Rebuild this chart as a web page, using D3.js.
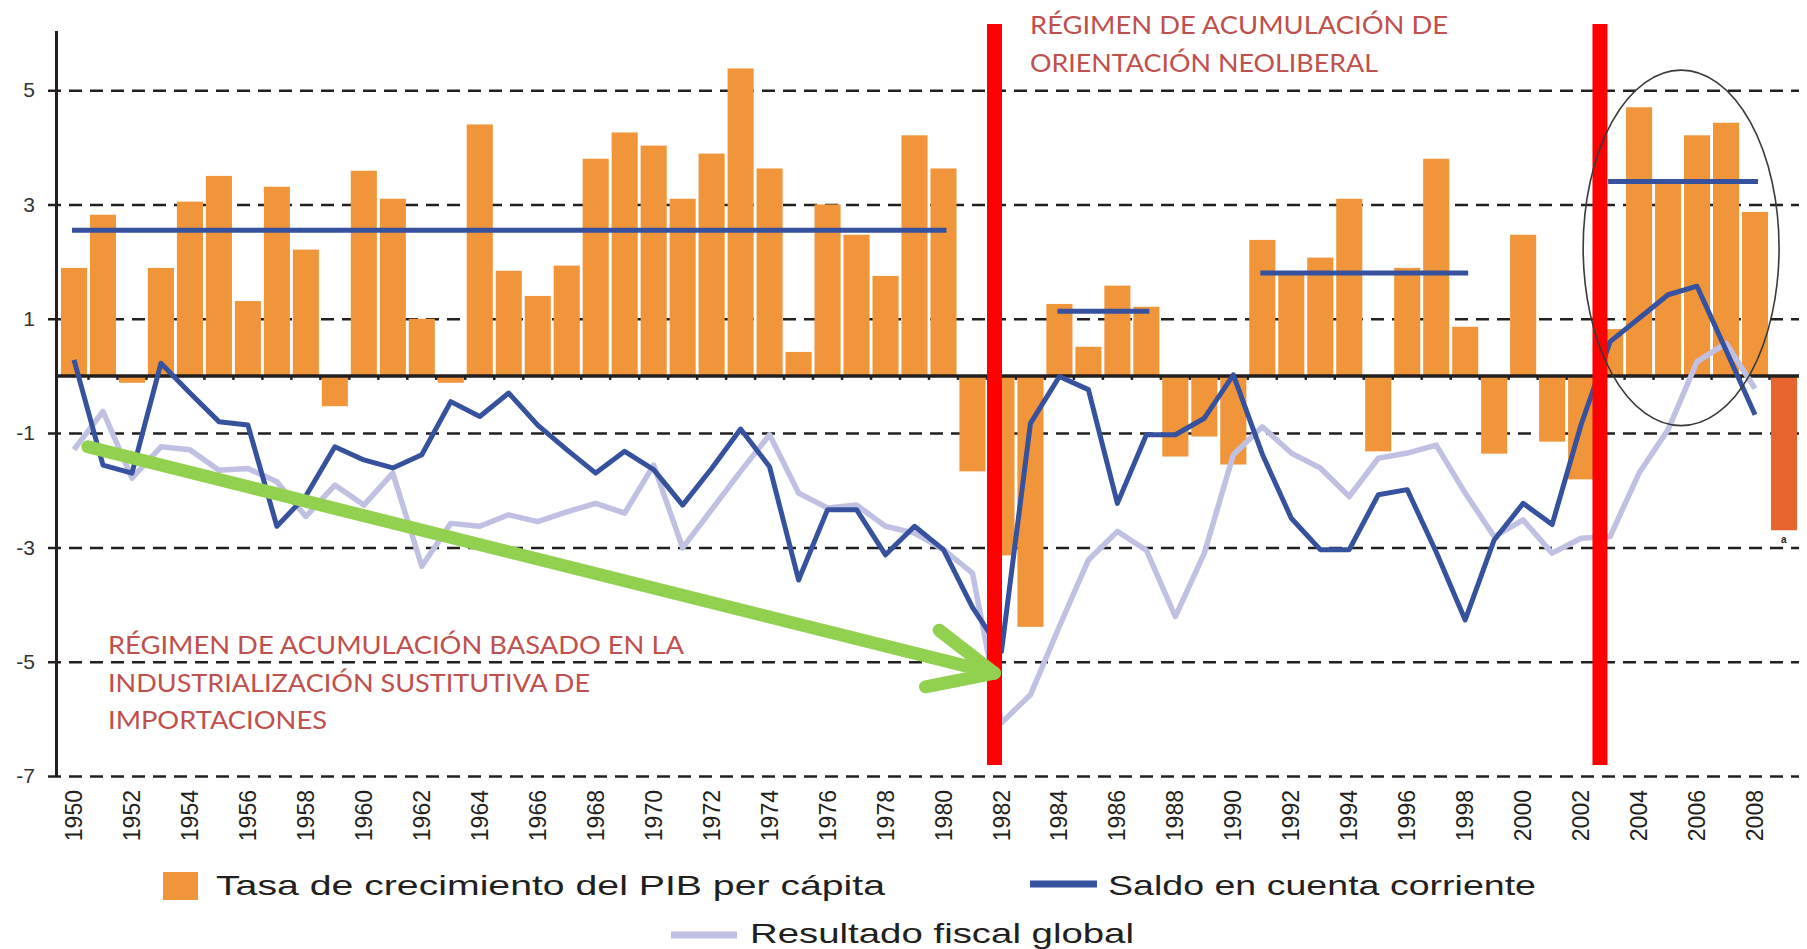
<!DOCTYPE html>
<html>
<head>
<meta charset="utf-8">
<script src="https://cdn.jsdelivr.net/npm/d3@7"></script>
<style>
  body { margin: 0; background: #fff; }
  svg { display: block; }
</style>
</head>
<body>
<script>
// categories
const years = d3.range(1950, 2010);
const yearLabels = years.filter(d => d % 2 === 0);
const yTicks = [5, 3, 1, -1, -3, -5, -7];
const estimado = 2009;

// Tasa de crecimiento del PIB per cápita (1950-2009)
const pib = [1.89, 2.82, -0.12, 1.89, 3.05, 3.50, 1.31, 3.31, 2.21, -0.53,
             3.59, 3.10, 1.00, -0.12, 4.40, 1.84, 1.40, 1.93, 3.80, 4.26,
             4.03, 3.10, 3.89, 5.38, 3.63, 0.42, 3.00, 2.47, 1.75, 4.21,
             3.63, -1.67, -3.14, -4.39, 1.26, 0.51, 1.58, 1.21, -1.41, -1.06,
             -1.55, 2.38, 1.80, 2.07, 3.10, -1.32, 1.89, 3.80, 0.86, -1.36,
             2.47, -1.15, -1.81, 0.82, 4.70, 3.41, 4.21, 4.43, 2.87, -2.70];

// Saldo en cuenta corriente (1950-2008)
const saldo = [0.28, -1.56, -1.70, 0.22, -0.30, -0.80, -0.86, -2.63, -2.10, -1.24,
               -1.47, -1.61, -1.38, -0.45, -0.71, -0.30, -0.86, -1.29, -1.70, -1.32,
               -1.64, -2.26, -1.62, -0.93, -1.59, -3.57, -2.34, -2.34, -3.13, -2.63,
               -3.04, -4.05, -4.82, -0.83, -0.01, -0.24, -2.23, -1.03, -1.03, -0.74,
               0.02, -1.37, -2.49, -3.04, -3.04, -2.08, -1.99, -3.08, -4.27, -2.87,
               -2.23, -2.60, -0.85, 0.60, 1.01, 1.42, 1.57, 0.45, -0.68];

// Resultado fiscal global (1950-2008)
const fiscal = [-1.29, -0.62, -1.79, -1.24, -1.29, -1.65, -1.62, -1.85, -2.46, -1.91,
                -2.26, -1.70, -3.33, -2.58, -2.63, -2.43, -2.55, -2.38, -2.23, -2.40,
                -1.56, -3.01, -2.34, -1.67, -1.03, -2.05, -2.31, -2.26, -2.63, -2.75,
                -3.04, -3.45, -6.07, -5.58, -4.38, -3.22, -2.72, -3.05, -4.21, -3.10,
                -1.38, -0.89, -1.35, -1.61, -2.11, -1.44, -1.35, -1.21, -2.05, -2.81,
                -2.52, -3.10, -2.84, -2.81, -1.70, -0.94, 0.25, 0.57, -0.22];

// promedio del PIB per cápita por período
const promDesde = [1950, 1984, 1991, 2003];
const promHasta = [1980, 1987, 1998, 2008];
const promValor = [2.55, 1.13, 1.80, 3.40];

const width = 1807, height = 949;

const svg = d3.select("body").append("svg")
    .attr("width", width)
    .attr("height", height);

const x = d3.scaleBand().domain(years).range([59.5, 1798.5]).paddingInner(0.1).paddingOuter(0.05);
const y = d3.scaleLinear().domain([-7, 6]).range([776, 33]);
const bw = x.bandwidth();
// fractional year -> pixel, for the hand-drawn annotations
const xc = yr => x(1950) + bw / 2 + (yr - 1950) * x.step();

// dashed grid + y labels
const yAxis = d3.axisLeft(y).tickValues(yTicks).tickSize(-(1799 - 48)).tickPadding(13).tickFormat(d => d);
svg.append("g").attr("class", "y axis").attr("transform", "translate(48,0)").call(yAxis)
    .call(g => g.select(".domain").remove())
    .call(g => g.selectAll(".tick line")
        .attr("stroke", "#231f20").attr("stroke-width", 2.5).attr("stroke-dasharray", "13,8"))
    .call(g => g.selectAll(".tick text")
        .attr("font-family", "Liberation Sans, Arial, sans-serif").attr("font-size", 21).attr("fill", "#333"));

// bars
const barData = years.map((yr, i) => ({year: yr, value: pib[i]}));
svg.append("g").selectAll("rect").data(barData).join("rect")
    .attr("x", d => x(d.year))
    .attr("width", bw)
    .attr("y", d => y(Math.max(0, d.value)))
    .attr("height", d => Math.abs(y(d.value) - y(0)))
    .attr("fill", d => d.year === estimado ? "#E8642E" : "#F0953A");

// zero line and its small ticks
svg.append("line")
    .attr("x1", 56).attr("x2", 1799).attr("y1", y(0)).attr("y2", y(0))
    .attr("stroke", "#231f20").attr("stroke-width", 3.5);
svg.append("g").selectAll("line").data(years.slice(1)).join("line")
    .attr("x1", d => x(d) - x.step() * x.paddingInner() / 2)
    .attr("x2", d => x(d) - x.step() * x.paddingInner() / 2)
    .attr("y1", y(0)).attr("y2", y(0) + 4)
    .attr("stroke", "#231f20").attr("stroke-width", 2.5);

// y axis line
svg.append("line")
    .attr("x1", 56.5).attr("x2", 56.5).attr("y1", 31).attr("y2", y(-7))
    .attr("stroke", "#231f20").attr("stroke-width", 3);

// x labels
const xAxis = d3.axisBottom(x).tickValues(yearLabels).tickSize(0);
svg.append("g").attr("class", "x axis").attr("transform", `translate(0,${y(-7)})`).call(xAxis)
    .call(g => g.select(".domain").remove())
    .call(g => g.selectAll(".tick text")
        .attr("transform", "rotate(-90)")
        .attr("x", -14).attr("y", 0).attr("dy", "0.35em")
        .attr("text-anchor", "end")
        .attr("font-family", "Liberation Sans, Arial, sans-serif")
        .attr("font-size", 23).attr("fill", "#231f20"));

// period averages
svg.append("g").selectAll("line").data(promValor).join("line")
    .attr("x1", (d, i) => x(promDesde[i]) + bw / 2 - 2)
    .attr("x2", (d, i) => x(promHasta[i]) + bw / 2 + 3)
    .attr("y1", d => y(d)).attr("y2", d => y(d))
    .attr("stroke", "#36519E").attr("stroke-width", 5);

// series lines
const line = d3.line().x(d => x(d.year) + bw / 2).y(d => y(d.value));
svg.append("path")
    .datum(fiscal.map((v, i) => ({year: years[i], value: v})))
    .attr("d", line)
    .attr("fill", "none").attr("stroke", "#C0C0E3").attr("stroke-width", 5.5)
    .attr("stroke-linejoin", "round");
svg.append("path")
    .datum(saldo.map((v, i) => ({year: years[i], value: v})))
    .attr("d", line)
    .attr("fill", "none").attr("stroke", "#36519E").attr("stroke-width", 5)
    .attr("stroke-linejoin", "round");

// regime breaks
const cortes = [1981.76, 2002.65];
svg.append("g").selectAll("line").data(cortes).join("line")
    .attr("x1", d => xc(d)).attr("x2", d => xc(d))
    .attr("y1", 24).attr("y2", 765)
    .attr("stroke", "#FF0000").attr("stroke-width", 15);

// green arrow
const flecha = [[1950.48, -1.24], [1981.76, -5.20]];
const punta = [[1979.85, -4.45], [1981.76, -5.20], [1979.38, -5.44]];
const pline = d3.line().x(d => xc(d[0])).y(d => y(d[1]));
svg.append("path").attr("d", pline(flecha))
    .attr("fill", "none").attr("stroke", "#92D050").attr("stroke-width", 13).attr("stroke-linecap", "round");
svg.append("path").attr("d", pline(punta))
    .attr("fill", "none").attr("stroke", "#92D050").attr("stroke-width", 13)
    .attr("stroke-linecap", "round").attr("stroke-linejoin", "round");

// ellipse round the last boom
svg.append("ellipse")
    .attr("cx", xc(2005.45)).attr("cy", y(2.24))
    .attr("rx", 3.38 * x.step()).attr("ry", y(0) - y(3.11))
    .attr("fill", "none").attr("stroke", "#3a3a3a").attr("stroke-width", 1.6);

// footnote mark under 2009
svg.append("text")
    .attr("x", x(estimado) + bw / 2 - 3).attr("y", y(-2.70) + 13)
    .attr("font-family", "Liberation Sans, Arial, sans-serif").attr("font-size", 10)
    .attr("font-weight", "bold").attr("fill", "#231f20")
    .text("a");

// regime annotations
const anotRed = "#C0504D";
const arriba = ["RÉGIMEN DE ACUMULACIÓN DE", "ORIENTACIÓN NEOLIBERAL"];
const arribaLen = [418, 348];
svg.append("g").selectAll("text").data(arriba).join("text")
    .attr("x", 1030).attr("y", (d, i) => 34 + i * 38)
    .attr("font-family", "Lato, 'Open Sans', sans-serif").attr("font-size", 25)
    .attr("fill", anotRed)
    .attr("textLength", (d, i) => arribaLen[i]).attr("lengthAdjust", "spacingAndGlyphs")
    .text(d => d);

const abajo = ["RÉGIMEN DE ACUMULACIÓN BASADO EN LA", "INDUSTRIALIZACIÓN SUSTITUTIVA DE", "IMPORTACIONES"];
const abajoLen = [576, 482, 219];
svg.append("g").selectAll("text").data(abajo).join("text")
    .attr("x", 108).attr("y", (d, i) => 654 + i * 37.5)
    .attr("font-family", "Lato, 'Open Sans', sans-serif").attr("font-size", 25)
    .attr("fill", anotRed)
    .attr("textLength", (d, i) => abajoLen[i]).attr("lengthAdjust", "spacingAndGlyphs")
    .text(d => d);

// legend
const legend = svg.append("g").attr("font-family", "Liberation Sans, Arial, sans-serif")
    .attr("font-size", 28).attr("fill", "#231f20");
legend.append("rect").attr("x", 163).attr("y", 872).attr("width", 35).attr("height", 28).attr("fill", "#F0953A");
legend.append("text").attr("x", 216).attr("y", 895)
    .attr("textLength", 669).attr("lengthAdjust", "spacingAndGlyphs")
    .text("Tasa de crecimiento del PIB per cápita");
legend.append("line").attr("x1", 1030).attr("x2", 1097).attr("y1", 884).attr("y2", 884)
    .attr("stroke", "#36519E").attr("stroke-width", 7);
legend.append("text").attr("x", 1108).attr("y", 895)
    .attr("textLength", 428).attr("lengthAdjust", "spacingAndGlyphs")
    .text("Saldo en cuenta corriente");
legend.append("line").attr("x1", 671).attr("x2", 737).attr("y1", 935).attr("y2", 935)
    .attr("stroke", "#C0C0E3").attr("stroke-width", 7);
legend.append("text").attr("x", 750).attr("y", 943)
    .attr("textLength", 384).attr("lengthAdjust", "spacingAndGlyphs")
    .text("Resultado fiscal global");
</script>
</body>
</html>
